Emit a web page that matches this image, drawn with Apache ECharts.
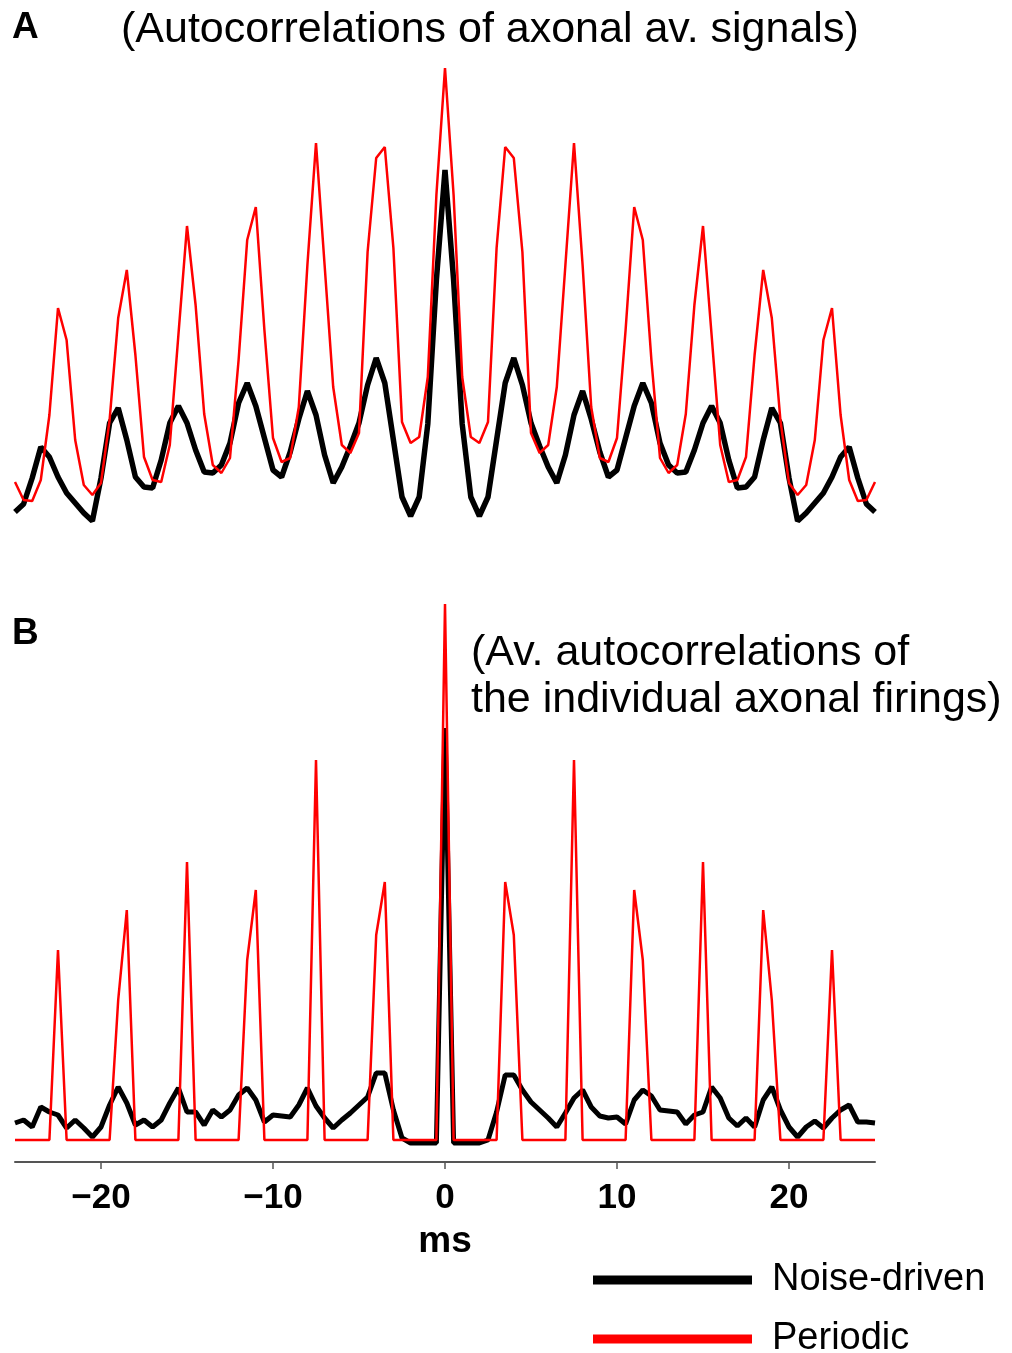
<!DOCTYPE html>
<html>
<head>
<meta charset="utf-8">
<script src="https://cdn.jsdelivr.net/npm/echarts@6/dist/echarts.min.js"></script>
<style>
html,body{margin:0;padding:0;background:#fff;}
#chart{width:1012px;height:1353px;}
</style>
</head>
<body>
<div id="chart"></div>
<script>
// Lags (ms), sampled every 0.5 ms from -25 to 25
const lags = Array.from({length: 101}, (_, i) => -25 + i * 0.5);

// Panel A: autocorrelations of axonal averaged signals (arbitrary units)
const periodicA = [48,30,29,50,115,222,190,90,45,35,47,110,212,260,175,73,50,48,85,195,304,225,116,65,57,72,170,290,323,200,92,68,72,123,265,387,265,143,85,77,97,278,372,383,282,108,87,93,153,335,462,
335,153,93,87,108,282,383,372,278,97,77,85,143,265,387,265,123,72,68,92,200,323,290,170,72,57,65,116,225,304,195,85,48,50,73,175,260,212,110,47,35,45,90,190,222,115,50,29,30,48];
const noiseA = [18,26,52,83,73,53,37,27,17,9,52,107,122,90,53,43,42,70,107,124,107,80,58,57,65,87,127,147,124,92,60,53,78,111,139,115,75,47,63,84,107,145,172,147,90,33,14,33,106,250,360,
250,106,33,14,33,90,147,172,145,107,84,63,47,75,115,139,111,78,53,60,92,124,147,127,87,65,57,58,80,107,124,107,70,42,43,53,90,122,107,52,9,17,27,37,53,73,83,52,26,18];

// Panel B: average autocorrelations of individual axonal firings (arbitrary units)
const periodicB = [22,22,22,22,22,212,22,22,22,22,22,22,162,252,22,22,22,22,22,22,300,22,22,22,22,22,22,202,272,22,22,22,22,22,22,402,22,22,22,22,22,22,227,280,22,22,22,22,22,22,558,
22,22,22,22,22,22,280,227,22,22,22,22,22,22,402,22,22,22,22,22,22,272,202,22,22,22,22,22,22,300,22,22,22,22,22,22,252,162,22,22,22,22,22,22,212,22,22,22,22,22];
const noiseB = [39,42,35,55,50,47,34,42,34,25,35,57,75,59,37,42,35,42,59,74,50,50,37,52,45,52,67,74,62,40,47,46,45,57,74,56,44,34,42,49,57,65,89,89,52,24,19,19,19,19,434,
19,19,19,19,22,50,87,87,72,60,52,44,35,49,64,72,55,46,44,45,38,62,72,66,52,51,50,38,47,50,75,64,44,36,44,35,62,75,52,35,25,35,41,34,44,52,57,40,40,39];

const xTicks = [-20, -10, 0, 10, 20];
const seriesNames = ['Noise-driven', 'Periodic'];

const FONT = "'Liberation Sans', Arial, Helvetica, sans-serif";
const pairs = arr => lags.map((t, i) => [t, arr[i]]);

const legendBase = {
  orient: 'vertical', left: 593, padding: 0, itemWidth: 159, itemHeight: 9, icon: 'rect',
  textStyle: {fontFamily: FONT, fontSize: 38, color: '#000', lineHeight: 40, padding: [4, 0, 0, 15]}
};

const chart = echarts.init(document.getElementById('chart'), null, {renderer: 'canvas'});
chart.setOption({
  animation: false,
  backgroundColor: '#fff',
  title: [
    {text: 'A', left: 12, top: 9, padding: 0, textStyle: {fontFamily: FONT, fontSize: 37, fontWeight: 'bold', color: '#000'}},
    {text: '(Autocorrelations of axonal av. signals)', left: 121, top: 9, padding: 0, textStyle: {fontFamily: FONT, fontSize: 43, fontWeight: 'normal', color: '#000'}},
    {text: 'B', left: 12, top: 615, padding: 0, textStyle: {fontFamily: FONT, fontSize: 37, fontWeight: 'bold', color: '#000'}},
    {text: '(Av. autocorrelations of\nthe individual axonal firings)', left: 471, top: 630, padding: 0, textStyle: {fontFamily: FONT, fontSize: 43, fontWeight: 'normal', color: '#000', lineHeight: 47}}
  ],
  legend: [
    Object.assign({}, legendBase, {top: 1258, data: [seriesNames[0]]}),
    Object.assign({}, legendBase, {top: 1317, data: [seriesNames[1]]})
  ],
  grid: [
    {left: 15, width: 860, top: 60, height: 470},
    {left: 15, width: 860, top: 602, height: 560}
  ],
  xAxis: [
    {gridIndex: 0, type: 'value', min: -25, max: 25, show: false},
    {gridIndex: 1, type: 'value', min: -25, max: 25,
      splitLine: {show: false},
      axisLine: {show: true, onZero: false, lineStyle: {color: '#555', width: 2}},
      axisTick: {show: true, length: 7, customValues: xTicks, lineStyle: {color: '#555', width: 1.5}},
      axisLabel: {customValues: xTicks, margin: 19, fontFamily: FONT, fontSize: 35, fontWeight: 'bold', color: '#000',
        formatter: v => (v < 0 ? '\u2212' + Math.abs(v) : String(v))},
      name: 'ms', nameLocation: 'middle', nameGap: 61,
      nameTextStyle: {fontFamily: FONT, fontSize: 37, fontWeight: 'bold', color: '#000'}
    }
  ],
  yAxis: [
    {gridIndex: 0, type: 'value', min: 0, max: 470, show: false},
    {gridIndex: 1, type: 'value', min: 0, max: 560, show: false}
  ],
  series: [
    {name: seriesNames[0], type: 'line', xAxisIndex: 0, yAxisIndex: 0, data: pairs(noiseA), showSymbol: false, symbol: 'none',
      lineStyle: {color: '#000', width: 5.5}, itemStyle: {color: '#000'}, z: 2},
    {name: seriesNames[1], type: 'line', xAxisIndex: 0, yAxisIndex: 0, data: pairs(periodicA), showSymbol: false, symbol: 'none',
      lineStyle: {color: '#ff0000', width: 2.5}, itemStyle: {color: '#ff0000'}, z: 3},
    {name: seriesNames[0], type: 'line', xAxisIndex: 1, yAxisIndex: 1, data: pairs(noiseB), showSymbol: false, symbol: 'none',
      lineStyle: {color: '#000', width: 5}, itemStyle: {color: '#000'}, z: 2},
    {name: seriesNames[1], type: 'line', xAxisIndex: 1, yAxisIndex: 1, data: pairs(periodicB), showSymbol: false, symbol: 'none',
      lineStyle: {color: '#ff0000', width: 2.5}, itemStyle: {color: '#ff0000'}, z: 3}
  ]
});
</script>
</body>
</html>
